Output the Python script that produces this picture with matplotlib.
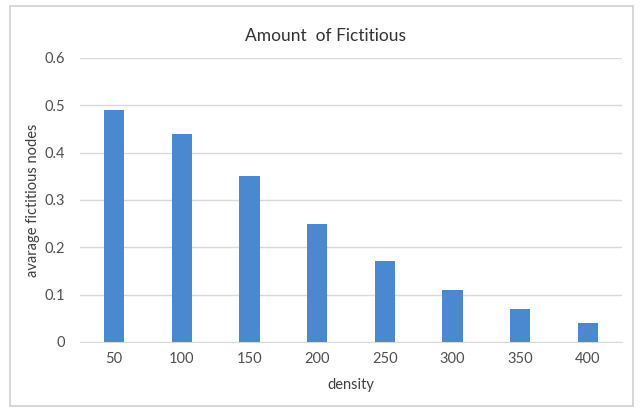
import matplotlib
matplotlib.use("Agg")
import matplotlib.pyplot as plt
from matplotlib.patches import Rectangle

density = ["50", "100", "150", "200", "250", "300", "350", "400"]
avg_fictitious = [0.49, 0.44, 0.35, 0.25, 0.17, 0.11, 0.07, 0.04]
y_ticks = [0, 0.1, 0.2, 0.3, 0.4, 0.5, 0.6]
y_tick_labels = ["0", "0.1", "0.2", "0.3", "0.4", "0.5", "0.6"]

plt.rcParams["font.family"] = ["Lato", "DejaVu Sans"]

fig = plt.figure(figsize=(6.41, 4.08), dpi=100)
fig.patches.append(Rectangle((0.016, 0.005), 0.972, 0.98, transform=fig.transFigure,
                             fill=False, edgecolor="#d0d0d0", linewidth=1.2))

ax = fig.add_axes([0.125, 0.162, 0.845, 0.696])
x = range(len(density))
ax.bar(x, avg_fictitious, width=0.3, color="#4a88d0", zorder=3)

ax.set_xlim(-0.5, len(density) - 0.5)
ax.set_ylim(0, 0.6)
ax.set_yticks(y_ticks)
ax.set_yticklabels(y_tick_labels)
ax.set_xticks(list(x))
ax.set_xticklabels(density)
ax.grid(axis="y", color="#d9d9d9", linewidth=1.0, zorder=0)
for s in ["top", "right", "left"]:
    ax.spines[s].set_visible(False)
ax.spines["bottom"].set_color("#d9d9d9")
ax.tick_params(axis="both", length=0, colors="#505050", labelsize=10.5)
ax.tick_params(axis="x", pad=7)
ax.tick_params(axis="y", pad=11)

ax.set_title("Amount  of Fictitious", fontsize=12.5, color="#333333", pad=12, x=0.453)
ax.set_xlabel("density", fontsize=10.5, color="#404040", labelpad=9)
ax.set_ylabel("avarage fictitious nodes", fontsize=10.5, color="#404040", labelpad=3)

fig.savefig("out.png", dpi=100, facecolor="white")
